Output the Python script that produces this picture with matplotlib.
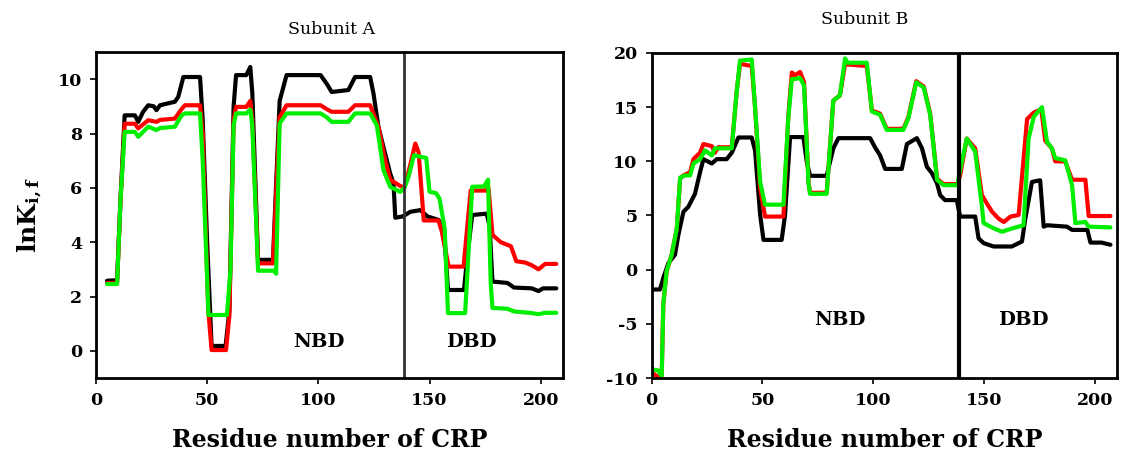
import matplotlib
matplotlib.use("Agg")
import matplotlib.pyplot as plt

plt.rcParams['font.family'] = ['DejaVu Serif']
plt.rcParams['mathtext.fontset'] = 'dejavuserif'
plt.rcParams['axes.unicode_minus'] = False

# ---------------- Subunit A ----------------
a_black_x = [5, 9.5, 11, 12.9, 17.5, 19, 21.2, 23.5, 26, 27.2, 28.8, 35.5, 37, 39.3, 46.8, 48, 50, 52, 58.3, 60, 61.9, 63, 67.6, 69.4, 70.3, 72.9, 79.6, 82.6, 85.7, 101, 103.7, 106, 113.5, 116.5, 123.3, 124.8, 127, 130, 132.3, 133.8, 134.6, 138, 141.4, 145.9, 149, 154, 156.5, 158.3, 165.5, 167, 169.2, 175.7, 177, 178.3, 185, 188, 196, 199, 201, 207]
a_black_y = [2.58, 2.6, 5.5, 8.67, 8.67, 8.43, 8.8, 9.04, 9.0, 8.86, 9.04, 9.17, 9.35, 10.08, 10.08, 8.5, 4.0, 0.18, 0.18, 1.5, 9.0, 10.15, 10.15, 10.45, 9.5, 3.35, 3.35, 9.2, 10.15, 10.15, 9.84, 9.53, 9.6, 10.08, 10.08, 9.47, 8.25, 7.27, 6.53, 6.16, 4.9, 4.95, 5.12, 5.18, 4.95, 4.82, 4.5, 2.24, 2.24, 3.5, 5.0, 5.05, 4.6, 2.55, 2.5, 2.33, 2.3, 2.2, 2.3, 2.3]

a_red_x = [5, 9.5, 11, 12.9, 17.5, 19, 23.5, 27.2, 28.8, 35.5, 38.5, 40, 46.8, 48, 50.5, 52, 58.5, 60, 61.9, 63, 67.6, 69.4, 70.3, 72.9, 79.6, 82.6, 85.7, 101, 103.7, 106, 113.5, 116.5, 123.3, 127, 130, 132.3, 136.8, 138.7, 141.5, 143.6, 145.1, 147.4, 154, 155.5, 158.6, 165.3, 168.5, 175.3, 176.5, 178.3, 182, 186.6, 189, 193, 196, 199, 202, 207]
a_red_y = [2.5, 2.5, 5.5, 8.36, 8.36, 8.19, 8.49, 8.43, 8.5, 8.55, 8.9, 9.04, 9.04, 8.0, 1.5, 0.03, 0.03, 1.3, 8.5, 8.98, 8.98, 9.2, 8.5, 3.22, 3.22, 8.6, 9.04, 9.04, 8.9, 8.8, 8.8, 9.04, 9.04, 8.25, 7.03, 6.3, 6.07, 6.0, 6.9, 7.63, 7.3, 4.8, 4.8, 4.4, 3.1, 3.1, 5.9, 5.9, 6.0, 4.27, 4.0, 3.85, 3.3, 3.25, 3.15, 3.0, 3.2, 3.2]

a_green_x = [5, 9.5, 11, 12.9, 17.5, 19, 23.5, 27.2, 28.8, 35.5, 38.5, 40, 46.8, 48, 50.6, 58.9, 60.5, 61.9, 63, 67.6, 69.4, 70.3, 72.9, 80, 81, 82.6, 85.7, 101, 103.7, 106, 113.5, 116.5, 123.3, 126.3, 129.3, 132.3, 136.8, 138.7, 140.5, 143, 148.5, 150, 153, 154.5, 156.8, 158.3, 166, 169.2, 174.5, 176.3, 177.5, 178.3, 185, 188, 195, 199, 202, 207]
a_green_y = [2.46, 2.46, 5.5, 8.06, 8.06, 7.88, 8.25, 8.13, 8.2, 8.25, 8.67, 8.74, 8.74, 7.0, 1.32, 1.32, 3.0, 8.3, 8.74, 8.74, 8.88, 8.3, 2.95, 2.95, 2.84, 8.37, 8.74, 8.74, 8.6, 8.43, 8.43, 8.74, 8.74, 8.3, 6.65, 6.04, 5.85, 6.0, 6.4, 7.2, 7.1, 5.86, 5.8, 5.6, 4.5, 1.39, 1.39, 6.04, 6.05, 6.3, 2.5, 1.58, 1.55, 1.45, 1.4, 1.35, 1.4, 1.4]

# ---------------- Subunit B ----------------
b_black_x = [0.1, 3.8, 5.3, 7.6, 10.6, 12.1, 14.4, 16.6, 19.6, 21.9, 23.4, 27.2, 29.4, 33.9, 36.2, 39.2, 45.2, 46.7, 49, 50.5, 58.7, 60.2, 62.5, 68.5, 70, 71.5, 79, 82, 84.3, 98.6, 100.8, 103.1, 105.4, 112.9, 115.2, 119.7, 122, 124.2, 126.5, 128.8, 130.2, 132.4, 137.7, 139.2, 146, 147.5, 149.8, 154.3, 162.5, 167.1, 168.6, 171.6, 175.3, 176.9, 178.4, 187.4, 189.7, 196.6, 198, 203, 207]
b_black_y = [-1.83, -1.83, -0.77, 0.6, 1.38, 3.2, 5.35, 5.8, 7.0, 9.0, 10.2, 9.8, 10.2, 10.2, 10.8, 12.2, 12.2, 11.0, 5.05, 2.75, 2.75, 5.0, 12.24, 12.24, 10.0, 8.66, 8.66, 11.2, 12.14, 12.14, 11.3, 10.55, 9.3, 9.3, 11.6, 12.14, 11.2, 9.5, 8.9, 7.95, 6.88, 6.42, 6.42, 4.9, 4.9, 2.9, 2.45, 2.14, 2.14, 2.6, 4.7, 8.1, 8.25, 3.97, 4.1, 3.97, 3.67, 3.67, 2.5, 2.5, 2.3]

b_red_x = [0.1, 3.0, 4.6, 5.3, 6.8, 9.1, 11.4, 12.9, 14.4, 17.4, 18.9, 21.9, 23.4, 27.2, 28.6, 30.1, 36.2, 38.4, 39.9, 45.2, 46.7, 49, 51.2, 59.5, 61.7, 63.3, 64.8, 67, 68.8, 70.8, 71.5, 79, 82, 85, 87.3, 97.1, 99.4, 103.1, 106.1, 113.6, 115.9, 119.4, 122.8, 125.7, 128.8, 131.7, 138, 139.2, 142.2, 146, 149, 151.3, 153.6, 156.6, 158.9, 161.9, 165.6, 169.4, 172.4, 175.8, 177.6, 180.6, 182.1, 186.6, 189.7, 195.7, 197.2, 207]
b_red_y = [-9.5, -9.9, -9.8, -3.2, -0.15, 1.38, 3.8, 8.4, 8.7, 9.0, 10.2, 10.8, 11.6, 11.4, 10.8, 11.3, 11.3, 16.4, 19.0, 18.8, 15.0, 7.5, 4.9, 4.9, 14.2, 18.2, 17.95, 18.25, 17.3, 8.1, 7.1, 7.1, 15.6, 16.1, 18.96, 18.8, 14.7, 14.4, 13.0, 13.0, 14.1, 17.4, 16.9, 14.4, 8.4, 7.9, 7.9, 8.7, 12.1, 11.2, 6.9, 6.1, 5.35, 4.7, 4.4, 4.9, 5.05, 13.9, 14.5, 14.8, 11.9, 11.2, 10.0, 10.0, 8.3, 8.3, 4.95, 4.95]

b_green_x = [0.1, 3.0, 4.6, 5.3, 6.8, 9.1, 11.4, 12.9, 15.1, 17.4, 18.9, 21.9, 24.1, 27.2, 28.6, 36.2, 38.4, 39.9, 45.2, 46.7, 49, 51.2, 59.5, 61.7, 63.3, 64.8, 67, 68.8, 70.8, 71.5, 79, 82, 85, 87.3, 88.5, 97.1, 99.4, 103.1, 106.1, 113.6, 115.9, 119.4, 122.8, 125.7, 128.8, 131.7, 138, 139.2, 142.2, 146, 149, 149.8, 154.3, 158.1, 162.5, 167.8, 170.1, 172.4, 176.1, 178.4, 180.6, 182.1, 186.6, 189.7, 191.2, 195.7, 197.2, 207]
b_green_y = [-9.2, -9.3, -9.8, -3.2, -0.15, 1.38, 3.8, 8.5, 8.7, 8.7, 9.8, 10.2, 11.0, 10.55, 11.2, 11.2, 16.4, 19.3, 19.4, 15.0, 8.1, 6.0, 6.0, 14.0, 17.6, 17.6, 17.7, 17.0, 8.0, 7.0, 7.0, 15.6, 16.1, 19.5, 19.1, 19.1, 14.6, 14.3, 12.9, 12.9, 14.0, 17.3, 16.8, 14.3, 8.3, 7.8, 7.8, 9.2, 12.1, 10.9, 5.9, 4.3, 3.82, 3.5, 3.8, 4.1, 12.1, 14.1, 15.0, 11.8, 11.2, 10.3, 10.1, 7.8, 4.3, 4.4, 3.97, 3.9]

x_ticks = [0, 50, 100, 150, 200]
a_y_ticks = [0, 2, 4, 6, 8, 10]
b_y_ticks = [-10, -5, 0, 5, 10, 15, 20]
domain_boundary = 138.5

fig = plt.figure(figsize=(11.21, 4.62), dpi=100)
axA = fig.add_axes([0.0856, 0.1818, 0.4166, 0.7056])
axB = fig.add_axes([0.5812, 0.1818, 0.4153, 0.7035])

LW = 3.0
colors = ['black', '#ff0000', '#00ee00']

for ax, series, yt, ylim in [
    (axA, [(a_black_x, a_black_y), (a_red_x, a_red_y), (a_green_x, a_green_y)], a_y_ticks, (-1, 11)),
    (axB, [(b_black_x, b_black_y), (b_red_x, b_red_y), (b_green_x, b_green_y)], b_y_ticks, (-10, 20)),
]:
    for (xs, ys), c in zip(series, colors):
        ax.plot(xs, ys, color=c, lw=LW, solid_joinstyle='round', solid_capstyle='round')
    ax.set_xlim(0, 210)
    ax.set_ylim(*ylim)
    ax.set_xticks(x_ticks)
    ax.set_yticks(yt)
    for s in ax.spines.values():
        s.set_linewidth(2.0)
        s.set_color('black')
    ax.tick_params(axis='both', which='both', direction='out', length=4, width=1.2,
                   top=False, right=False, labelsize=12.5, pad=6)
    for lab in ax.get_xticklabels() + ax.get_yticklabels():
        lab.set_fontweight('bold')
    ax.set_xlabel('Residue number of CRP', fontsize=17, fontweight='bold', labelpad=14)

axA.axvline(domain_boundary, color='#333333', lw=2.0)
axB.axvline(domain_boundary, color='black', lw=3.0)

axA.text(100.3, 0.33, 'NBD', fontsize=14, fontweight='bold', ha='center', va='center')
axA.text(169, 0.33, 'DBD', fontsize=14, fontweight='bold', ha='center', va='center')
axB.text(84.8, -4.6, 'NBD', fontsize=14, fontweight='bold', ha='center', va='center')
axB.text(167.7, -4.6, 'DBD', fontsize=14, fontweight='bold', ha='center', va='center')

axA.set_ylabel(r'lnK$_{\mathbf{i,f}}$', fontsize=18, fontweight='bold', labelpad=10)

fig.text(332 / 1121, 1 - 29 / 462, 'Subunit A', fontsize=12.5, ha='center', va='center')
fig.text(865 / 1121, 1 - 20 / 462, 'Subunit B', fontsize=12.5, ha='center', va='center')

fig.savefig('out.png', dpi=100)
